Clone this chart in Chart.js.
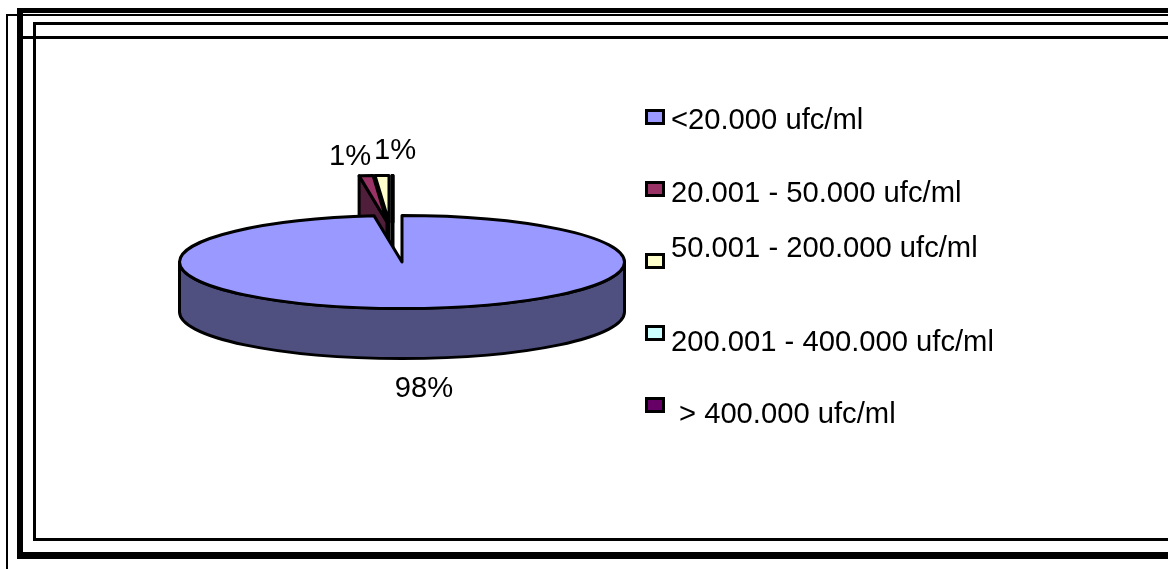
<!DOCTYPE html>
<html>
<head>
<meta charset="utf-8">
<title>ufc/ml</title>
<script src="https://cdn.jsdelivr.net/npm/chart.js@4"></script>
<style>
  html, body { margin: 0; padding: 0; background: #fff; overflow: hidden; }
  canvas { display: block; }
</style>
</head>
<body>
<canvas id="pieChart" width="1168" height="569"></canvas>
<script>
// Chart data
const categories = [
  "<20.000 ufc/ml",
  "20.001 - 50.000 ufc/ml",
  "50.001 - 200.000 ufc/ml",
  "200.001 - 400.000 ufc/ml",
  " > 400.000 ufc/ml",
];
const percentages = [98, 1, 1, 0, 0];

// Slice colours
const topColors = ["#9999FF", "#993366", "#FFFFCC", "#CCFFFF", "#660066"];
const wallColors = ["#4F4F80", "#4F1E3A", "#808066", "#668080", "#330033"];

// Pie geometry
const squash = 46.5 / 222.5;
const depth = 50;
const lift = [[0, 0], [-15, -40], [-13, -40], [-10, -40], [-9, -40]];

// Frame bars as x, y, w, h
const frameBars = [
  [6, 14, 2, 555], [6, 14, 1162, 2],
  [17, 8, 6, 551], [17, 8, 1151, 5], [17, 552, 1151, 7],
  [33, 22, 3, 519], [33, 22, 1135, 3], [33, 538, 1135, 3],
  [23, 36, 1145, 3],
];

// Legend rows: box top and text baseline differ per row
const legendBoxY = [109, 181, 253, 325, 397];
const legendTextY = [129, 202, 257, 351, 423];
const percentPos = [[424, 397], [350, 165], [395, 159]];

const FONT = '29.2px "Liberation Sans", Arial, sans-serif';

// Outline of one slice top, in screen pixels
function tracePie(ctx, arc, dx, dy) {
  const rx = arc.outerRadius;
  const ry = rx * squash;
  const x = arc.x + dx;
  const y = arc.y + dy;
  ctx.beginPath();
  ctx.moveTo(x, y);
  ctx.ellipse(x, y, rx, ry, 0, arc.startAngle, arc.endAngle);
  ctx.closePath();
}

// Cut face along the first edge of a pulled out slice
function drawCutFace(ctx, arc, i, dx, dy) {
  const rx = arc.outerRadius;
  const ry = rx * squash;
  const x = arc.x + dx;
  const y = arc.y + dy;
  const rimX = x + Math.cos(arc.startAngle) * rx;
  const rimY = y + Math.sin(arc.startAngle) * ry;
  ctx.beginPath();
  ctx.moveTo(rimX, rimY);
  ctx.lineTo(x, y);
  ctx.lineTo(x, y + depth);
  ctx.lineTo(rimX, rimY + depth);
  ctx.closePath();
  ctx.fillStyle = wallColors[i];
  ctx.fill();
  ctx.stroke();
}

// Front wall of the big slice
function drawFrontWall(ctx, arc, i) {
  const rx = arc.outerRadius;
  const ry = rx * squash;
  ctx.beginPath();
  ctx.ellipse(arc.x, arc.y, rx, ry, 0, 0, Math.PI);
  ctx.lineTo(arc.x - rx, arc.y + depth);
  ctx.ellipse(arc.x, arc.y + depth, rx, ry, 0, Math.PI, 0, true);
  ctx.closePath();
  ctx.fillStyle = wallColors[i];
  ctx.fill();
  ctx.stroke();
}

const framePlugin = {
  id: "frame",
  beforeDraw(chart) {
    const ctx = chart.ctx;
    ctx.save();
    ctx.fillStyle = "#000";
    frameBars.forEach((b) => ctx.fillRect(b[0], b[1], b[2], b[3]));
    ctx.restore();
  },
};

// Flattened pie with walls, using the arcs the doughnut controller laid out
const pie3dPlugin = {
  id: "pie3d",
  beforeDatasetDraw(chart, args) {
    const ctx = chart.ctx;
    const arcs = args.meta.data;
    ctx.save();
    ctx.lineWidth = 3;
    ctx.lineJoin = "round";
    ctx.strokeStyle = "#000";
    for (let i = arcs.length - 1; i >= 0; i--) {
      const arc = arcs[i];
      const [dx, dy] = lift[i];
      if (dx === 0 && dy === 0) {
        drawFrontWall(ctx, arc, i);
      } else {
        drawCutFace(ctx, arc, i, dx, dy);
      }
      ctx.save();
      ctx.translate(arc.x + dx, arc.y + dy);
      ctx.scale(1, squash);
      ctx.translate(-arc.x, -arc.y);
      arc.draw(ctx);
      ctx.restore();
      tracePie(ctx, arc, dx, dy);
      ctx.stroke();
    }
    ctx.restore();
    return false;
  },
};

// Legend and percent labels
const labelPlugin = {
  id: "labels",
  afterDraw(chart) {
    const ctx = chart.ctx;
    ctx.save();
    ctx.font = FONT;
    ctx.textBaseline = "alphabetic";
    ctx.textAlign = "left";
    categories.forEach((name, i) => {
      ctx.fillStyle = topColors[i];
      ctx.strokeStyle = "#000";
      ctx.lineWidth = 3;
      ctx.fillRect(646.5, legendBoxY[i] + 1.5, 17, 13);
      ctx.strokeRect(646.5, legendBoxY[i] + 1.5, 17, 13);
      ctx.fillStyle = "#000";
      ctx.fillText(name.trim(), name.startsWith(" ") ? 679 : 671, legendTextY[i]);
    });
    ctx.fillStyle = "#000";
    ctx.textAlign = "center";
    percentages.forEach((v, i) => {
      if (v > 0) ctx.fillText(v + "%", percentPos[i][0], percentPos[i][1]);
    });
    ctx.restore();
  },
};

new Chart(document.getElementById("pieChart"), {
  type: "pie",
  data: {
    labels: categories,
    datasets: [
      {
        data: percentages,
        backgroundColor: topColors,
        borderWidth: 0,
        clip: false,
      },
    ],
  },
  options: {
    responsive: false,
    animation: false,
    radius: 222.5,
    layout: { padding: { right: 364, bottom: 45 } },
    plugins: {
      legend: { display: false },
      tooltip: { enabled: false },
    },
  },
  plugins: [framePlugin, pie3dPlugin, labelPlugin],
});
</script>
</body>
</html>
